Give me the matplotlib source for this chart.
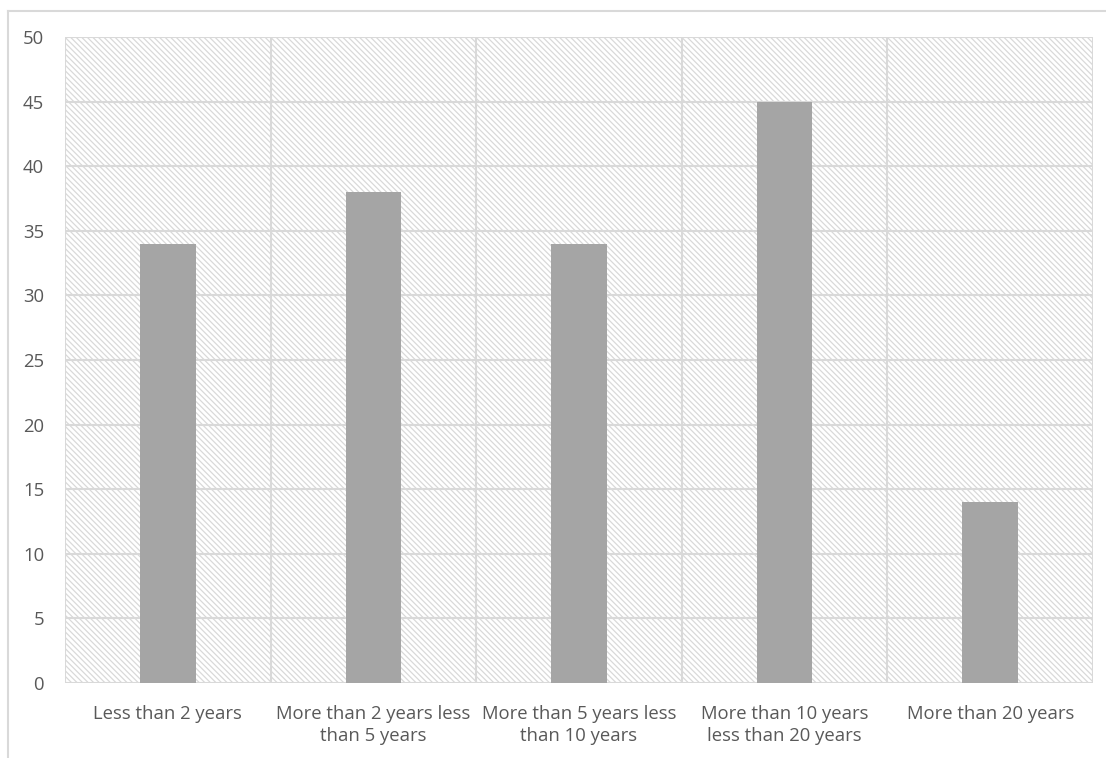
import matplotlib.pyplot as plt
from matplotlib.patches import Rectangle
from matplotlib.lines import Line2D

categories = [
    "Less than 2 years",
    "More than 2 years less\nthan 5 years",
    "More than 5 years less\nthan 10 years",
    "More than 10 years\nless than 20 years",
    "More than 20 years",
]
values = [34, 38, 34, 45, 14]
yticks = [0, 5, 10, 15, 20, 25, 30, 35, 40, 45, 50]

grid_col = "#d9d9d9"
text_col = "#595959"
bar_col = "#a5a5a5"

plt.rcParams["hatch.color"] = grid_col
plt.rcParams["hatch.linewidth"] = 0.9
plt.rcParams["font.family"] = ["Open Sans", "DejaVu Sans"]

fig = plt.figure(figsize=(11.06, 7.58), dpi=100)
ax = fig.add_axes([65 / 1106, 1 - 683 / 758, (1093 - 65) / 1106, (683 - 37) / 758])

# hatched plot area background
ax.add_patch(Rectangle((0, 0), 1, 1, transform=ax.transAxes, facecolor="white",
                       edgecolor=grid_col, linewidth=0, hatch="\\" * 6, zorder=0))

n = len(categories)
x = list(range(n))
ax.bar(x, values, width=0.27, color=bar_col, zorder=3)

ax.set_xlim(-0.5, n - 0.5)
ax.set_ylim(0, 50)
ax.set_yticks(yticks)
ax.set_xticks(x)
ax.set_xticklabels(categories, linespacing=1.3)

# grid: horizontal at ticks, vertical at category boundaries
for y in yticks:
    ax.axhline(y, color=grid_col, lw=1.5, zorder=1)
for b in [i - 0.5 for i in range(n + 1)]:
    ax.axvline(b, color=grid_col, lw=1.5, zorder=1)

for s in ax.spines.values():
    s.set_visible(False)
ax.tick_params(axis="both", length=0, colors=text_col, labelsize=13.3)
ax.tick_params(axis="y", pad=15)
ax.tick_params(axis="x", pad=16)

# chart border (top and left)
fig.add_artist(Line2D([8 / 1106, 8 / 1106], [0, 1 - 11 / 758], color=grid_col, lw=1.5))
fig.add_artist(Line2D([8 / 1106, 1], [1 - 11 / 758, 1 - 11 / 758], color=grid_col, lw=1.5))

fig.savefig("out.png", dpi=100)
